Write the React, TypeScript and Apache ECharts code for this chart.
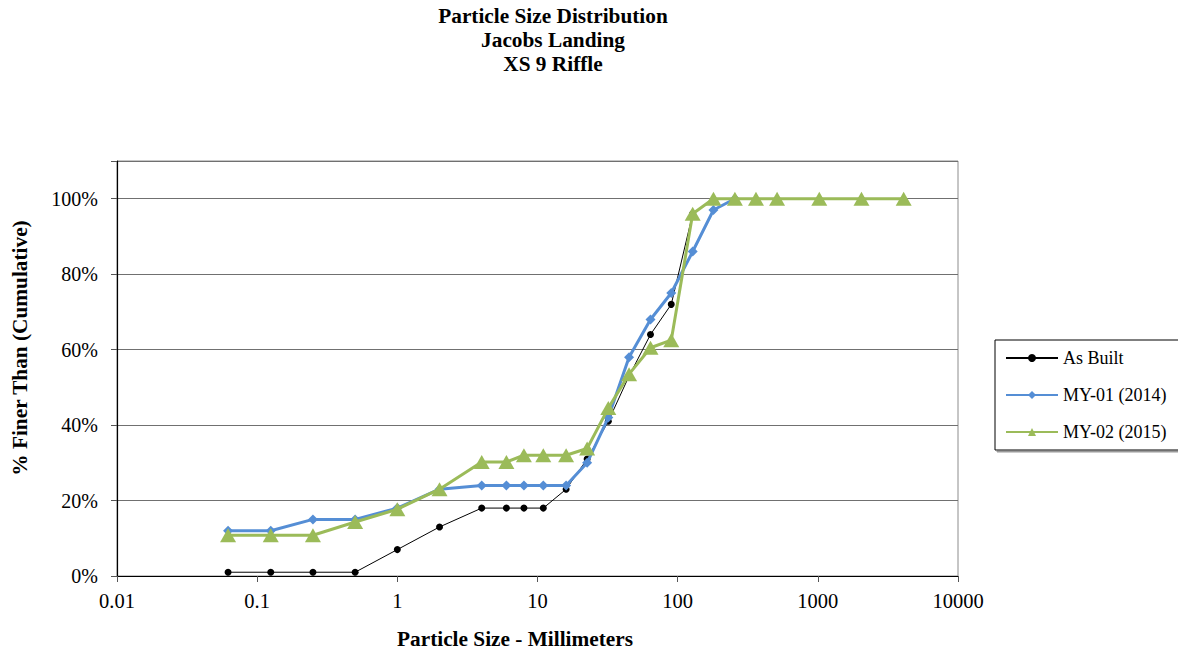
import React, { useEffect, useRef } from "react";
import * as echarts from "echarts";

const sizes = [0.062, 0.125, 0.25, 0.5, 1, 2, 4, 6, 8, 11, 16, 22.6, 32, 45, 64, 90, 128, 180, 256, 362, 512, 1024, 2048, 4096];
const asBuilt = [1, 1, 1, 1, 7, 13, 18, 18, 18, 18, 23, 31, 41, 53, 64, 72, 96];
const my01 = [12, 12, 15, 15, 18, 23, 24, 24, 24, 24, 24, 30, 42, 58, 68, 75, 86, 97, 100];
const my02 = [10.8, 10.8, 10.8, 14.3, 17.7, 23, 30.2, 30.2, 32, 32, 32, 33.8, 44.5, 53.5, 60.5, 62.5, 96, 100, 100, 100, 100, 100, 100, 100];
const seriesNames = ["As Built", "MY-01 (2014)", "MY-02 (2015)"];
const titleLines = ["Particle Size Distribution", "Jacobs Landing", "XS 9 Riffle"];
const xTitle = "Particle Size - Millimeters";
const yTitle = "% Finer Than (Cumulative)";

const FONT = '"Liberation Serif", "Times New Roman", serif';

const pairs = (vals: number[]) => vals.map((v, i) => [sizes[i], v]);

export default function App() {
  const ref = useRef<HTMLDivElement>(null);
  useEffect(() => {
    if (!ref.current) return;
    const chart = echarts.init(ref.current, undefined, { renderer: "svg" });
    chart.setOption({
      animation: false,
      backgroundColor: "#fff",
      textStyle: { fontFamily: FONT },
      title: {
        text: titleLines.join("\n"),
        left: 553,
        top: 4,
        padding: 0,
        textAlign: "center",
        textStyle: { fontFamily: FONT, fontWeight: "bold", fontSize: 21.3, lineHeight: 24, color: "#000" },
      },
      grid: {
        left: 117,
        top: 161,
        right: 220,
        bottom: 79,
        show: true,
        borderColor: "#8c8c8c",
        borderWidth: 1,
        containLabel: false,
      },
      legend: {
        orient: "vertical",
        left: 995,
        top: 340,
        padding: [9, 20, 9, 10],
        itemWidth: 52,
        itemHeight: 10,
        itemGap: 19,
        borderColor: "#000",
        borderWidth: 1,
        backgroundColor: "#fff",
        shadowColor: "#9a9a9a",
        shadowOffsetX: 2,
        shadowOffsetY: 2,
        shadowBlur: 0,
        textStyle: { fontFamily: FONT, fontSize: 18, color: "#000" },
        data: seriesNames,
      },
      xAxis: {
        type: "log",
        logBase: 10,
        min: 0.01,
        max: 10000,
        axisLine: { show: true, onZero: false, lineStyle: { color: "#000", width: 1.2 } },
        axisTick: { show: true, inside: false, length: 6, lineStyle: { color: "#555" } },
        axisLabel: {
          margin: 14,
          fontFamily: FONT,
          fontSize: 20.5,
          color: "#000",
          formatter: (v: number) => String(parseFloat(v.toPrecision(6))),
        },
        splitLine: { show: false },
        minorTick: { show: false },
      },
      yAxis: {
        type: "value",
        min: 0,
        max: 110,
        interval: 20,
        axisLine: { show: true, lineStyle: { color: "#000", width: 1.2 } },
        axisTick: { show: true, inside: false, length: 6, lineStyle: { color: "#555" } },
        axisLabel: {
          margin: 19,
          fontFamily: FONT,
          fontSize: 20,
          color: "#000",
          formatter: (v: number) => (v > 100 ? "" : v + "%"),
        },
        splitLine: { show: true, lineStyle: { color: "#707070", width: 1 } },
      },
      graphic: [
        {
          type: "text",
          x: 515,
          y: 639,
          style: { text: xTitle, fontFamily: FONT, fontWeight: "bold", fontSize: 21.3, fill: "#000", align: "center", verticalAlign: "middle" },
        },
        {
          type: "text",
          x: 20,
          y: 348,
          rotation: Math.PI / 2,
          style: { text: yTitle, fontFamily: FONT, fontWeight: "bold", fontSize: 21.3, fill: "#000", align: "center", verticalAlign: "middle" },
        },
      ],
      series: [
        {
          name: seriesNames[0],
          type: "line",
          data: pairs(asBuilt),
          symbol: "circle",
          symbolSize: 7,
          lineStyle: { color: "#000", width: 1 },
          itemStyle: { color: "#000" },
          z: 2,
        },
        {
          name: seriesNames[1],
          type: "line",
          data: pairs(my01),
          symbol: "diamond",
          symbolSize: 10,
          lineStyle: { color: "#558ED5", width: 3 },
          itemStyle: { color: "#558ED5" },
          z: 3,
        },
        {
          name: seriesNames[2],
          type: "line",
          data: pairs(my02),
          symbol: "triangle",
          symbolSize: [16, 14],
          lineStyle: { color: "#9BBB59", width: 3 },
          itemStyle: { color: "#9BBB59" },
          z: 4,
        },
      ],
    });
    return () => chart.dispose();
  }, []);
  return <div ref={ref} style={{ position: "fixed", left: 0, top: 0, width: 1178, height: 655 }} />;
}
